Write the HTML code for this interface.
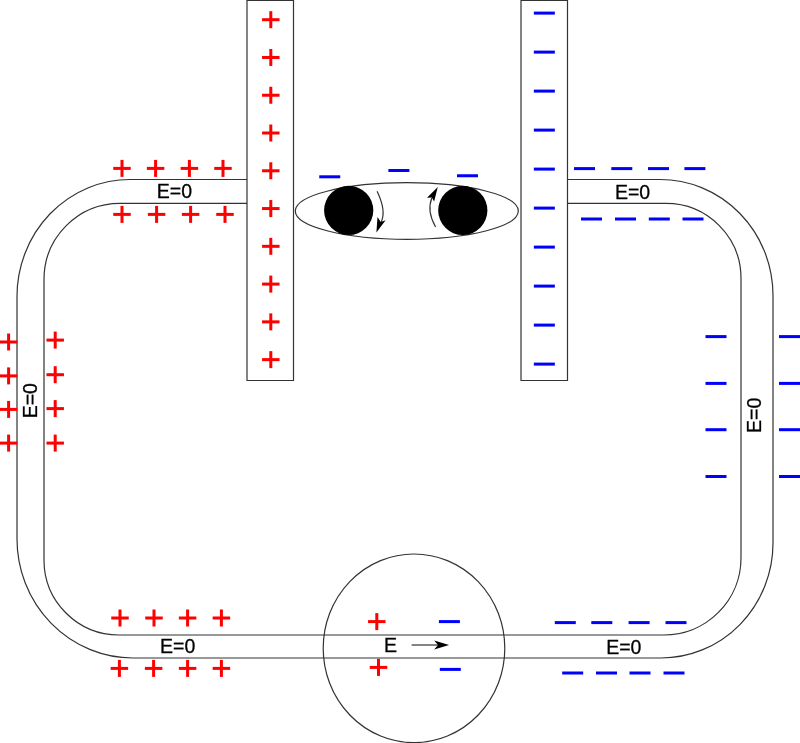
<!DOCTYPE html>
<html><head><meta charset="utf-8"><style>
html,body{margin:0;padding:0;background:#fff;}
svg{display:block;will-change:transform;}
text{font-family:"Liberation Sans",sans-serif;fill:#000;stroke:#000;stroke-width:0.3px;}
</style></head><body>
<svg width="800" height="743" viewBox="0 0 800 743">
<path d="M130,179.5 L660,179.5 A113,116 0 0 1 773,295.5 L773,543 A112,115 0 0 1 661,658 L133,658 A116,119 0 0 1 17,539 L17,296.5 A113,117 0 0 1 130,179.5 Z" fill="none" stroke="#333" stroke-width="1.2"/>
<path d="M120,203.4 L666,203.4 A75,75 0 0 1 741,278.4 L741,558 A77,77 0 0 1 664,635 L119,635 A75,75 0 0 1 44,560 L44,279.4 A76,76 0 0 1 120,203.4 Z" fill="none" stroke="#333" stroke-width="1.2"/>
<rect x="248" y="170" width="320" height="40" fill="#fff"/>
<rect x="247" y="0.5" width="46.5" height="380" fill="#fff"/>
<path d="M247,0.5 H293.5 V380.5 H247 Z" fill="none" stroke="#333" stroke-width="1.2"/>
<rect x="521" y="0.5" width="46.5" height="380" fill="#fff"/>
<path d="M521,0.5 H567.5 V380.5 H521 Z" fill="none" stroke="#333" stroke-width="1.2"/>
<rect x="262.05" y="18.20" width="17.5" height="3" fill="#ff0000"/><rect x="269.30" y="11.20" width="3" height="17" fill="#ff0000"/>
<rect x="533.85" y="11.60" width="21" height="3" fill="#0000ff"/>
<rect x="262.05" y="55.97" width="17.5" height="3" fill="#ff0000"/><rect x="269.30" y="48.97" width="3" height="17" fill="#ff0000"/>
<rect x="533.85" y="50.60" width="21" height="3" fill="#0000ff"/>
<rect x="262.05" y="93.74" width="17.5" height="3" fill="#ff0000"/><rect x="269.30" y="86.74" width="3" height="17" fill="#ff0000"/>
<rect x="533.85" y="89.60" width="21" height="3" fill="#0000ff"/>
<rect x="262.05" y="131.51" width="17.5" height="3" fill="#ff0000"/><rect x="269.30" y="124.51" width="3" height="17" fill="#ff0000"/>
<rect x="533.85" y="128.60" width="21" height="3" fill="#0000ff"/>
<rect x="262.05" y="169.28" width="17.5" height="3" fill="#ff0000"/><rect x="269.30" y="162.28" width="3" height="17" fill="#ff0000"/>
<rect x="533.85" y="167.60" width="21" height="3" fill="#0000ff"/>
<rect x="262.05" y="207.05" width="17.5" height="3" fill="#ff0000"/><rect x="269.30" y="200.05" width="3" height="17" fill="#ff0000"/>
<rect x="533.85" y="206.60" width="21" height="3" fill="#0000ff"/>
<rect x="262.05" y="244.82" width="17.5" height="3" fill="#ff0000"/><rect x="269.30" y="237.82" width="3" height="17" fill="#ff0000"/>
<rect x="533.85" y="245.60" width="21" height="3" fill="#0000ff"/>
<rect x="262.05" y="282.59" width="17.5" height="3" fill="#ff0000"/><rect x="269.30" y="275.59" width="3" height="17" fill="#ff0000"/>
<rect x="533.85" y="284.60" width="21" height="3" fill="#0000ff"/>
<rect x="262.05" y="320.36" width="17.5" height="3" fill="#ff0000"/><rect x="269.30" y="313.36" width="3" height="17" fill="#ff0000"/>
<rect x="533.85" y="323.60" width="21" height="3" fill="#0000ff"/>
<rect x="262.05" y="358.13" width="17.5" height="3" fill="#ff0000"/><rect x="269.30" y="351.13" width="3" height="17" fill="#ff0000"/>
<rect x="533.85" y="362.60" width="21" height="3" fill="#0000ff"/>
<ellipse cx="406.8" cy="211" rx="111.5" ry="28.3" fill="none" stroke="#333" stroke-width="1.2"/>
<circle cx="348.7" cy="210.4" r="24.6" fill="#000"/>
<circle cx="462.8" cy="210.4" r="24.6" fill="#000"/>
<rect x="319.25" y="175.30" width="21" height="3" fill="#0000ff"/>
<rect x="388.40" y="169.00" width="21" height="3" fill="#0000ff"/>
<rect x="457.00" y="174.25" width="21" height="3" fill="#0000ff"/>
<path d="M377.1,191.3 Q386.5,211 381.2,222" fill="none" stroke="#333" stroke-width="1.2"/>
<path d="M376.4,232.4 L377.5,216.9 L380.8,222 L385.6,220.2 Z" fill="#000"/>
<path d="M435.6,227 Q426.5,211 431.9,197.8" fill="none" stroke="#333" stroke-width="1.2"/>
<path d="M437.8,187 L427,197.8 L431.9,197.4 L434.1,201.5 Z" fill="#000"/>
<rect x="113.25" y="166.90" width="17.5" height="3" fill="#ff0000"/><rect x="120.50" y="159.90" width="3" height="17" fill="#ff0000"/>
<rect x="146.85" y="166.90" width="17.5" height="3" fill="#ff0000"/><rect x="154.10" y="159.90" width="3" height="17" fill="#ff0000"/>
<rect x="180.65" y="166.90" width="17.5" height="3" fill="#ff0000"/><rect x="187.90" y="159.90" width="3" height="17" fill="#ff0000"/>
<rect x="214.25" y="166.90" width="17.5" height="3" fill="#ff0000"/><rect x="221.50" y="159.90" width="3" height="17" fill="#ff0000"/>
<rect x="113.25" y="212.90" width="17.5" height="3" fill="#ff0000"/><rect x="120.50" y="205.90" width="3" height="17" fill="#ff0000"/>
<rect x="147.85" y="212.90" width="17.5" height="3" fill="#ff0000"/><rect x="155.10" y="205.90" width="3" height="17" fill="#ff0000"/>
<rect x="181.85" y="212.90" width="17.5" height="3" fill="#ff0000"/><rect x="189.10" y="205.90" width="3" height="17" fill="#ff0000"/>
<rect x="216.25" y="212.90" width="17.5" height="3" fill="#ff0000"/><rect x="223.50" y="205.90" width="3" height="17" fill="#ff0000"/>
<text x="174.4" y="198" font-size="19.5" text-anchor="middle">E=0</text>
<rect x="574.00" y="167.10" width="21" height="3" fill="#0000ff"/>
<rect x="611.30" y="167.10" width="21" height="3" fill="#0000ff"/>
<rect x="648.00" y="167.10" width="21" height="3" fill="#0000ff"/>
<rect x="684.40" y="167.10" width="21" height="3" fill="#0000ff"/>
<rect x="581.00" y="217.50" width="21" height="3" fill="#0000ff"/>
<rect x="615.00" y="217.50" width="21" height="3" fill="#0000ff"/>
<rect x="648.80" y="217.50" width="21" height="3" fill="#0000ff"/>
<rect x="682.50" y="217.50" width="21" height="3" fill="#0000ff"/>
<text x="632.6" y="198.6" font-size="19.5" text-anchor="middle">E=0</text>
<rect x="-0.15" y="340.50" width="17.5" height="3" fill="#ff0000"/><rect x="7.10" y="333.50" width="3" height="17" fill="#ff0000"/>
<rect x="-0.15" y="374.40" width="17.5" height="3" fill="#ff0000"/><rect x="7.10" y="367.40" width="3" height="17" fill="#ff0000"/>
<rect x="-0.15" y="407.90" width="17.5" height="3" fill="#ff0000"/><rect x="7.10" y="400.90" width="3" height="17" fill="#ff0000"/>
<rect x="-0.15" y="441.60" width="17.5" height="3" fill="#ff0000"/><rect x="7.10" y="434.60" width="3" height="17" fill="#ff0000"/>
<rect x="46.45" y="338.60" width="17.5" height="3" fill="#ff0000"/><rect x="53.70" y="331.60" width="3" height="17" fill="#ff0000"/>
<rect x="46.45" y="373.20" width="17.5" height="3" fill="#ff0000"/><rect x="53.70" y="366.20" width="3" height="17" fill="#ff0000"/>
<rect x="46.45" y="407.10" width="17.5" height="3" fill="#ff0000"/><rect x="53.70" y="400.10" width="3" height="17" fill="#ff0000"/>
<rect x="46.45" y="441.60" width="17.5" height="3" fill="#ff0000"/><rect x="53.70" y="434.60" width="3" height="17" fill="#ff0000"/>
<text x="37" y="400.7" font-size="19.5" text-anchor="middle" transform="rotate(-90 37 400.7)">E=0</text>
<rect x="705.50" y="335.10" width="21" height="3" fill="#0000ff"/>
<rect x="779.00" y="335.10" width="21" height="3" fill="#0000ff"/>
<rect x="705.50" y="381.90" width="21" height="3" fill="#0000ff"/>
<rect x="779.00" y="381.90" width="21" height="3" fill="#0000ff"/>
<rect x="705.50" y="428.20" width="21" height="3" fill="#0000ff"/>
<rect x="779.00" y="428.20" width="21" height="3" fill="#0000ff"/>
<rect x="705.50" y="475.00" width="21" height="3" fill="#0000ff"/>
<rect x="779.00" y="475.00" width="21" height="3" fill="#0000ff"/>
<text x="761.4" y="415.3" font-size="19.5" text-anchor="middle" transform="rotate(-90 761.4 415.3)">E=0</text>
<rect x="111.25" y="616.50" width="17.5" height="3" fill="#ff0000"/><rect x="118.50" y="609.50" width="3" height="17" fill="#ff0000"/>
<rect x="145.25" y="616.50" width="17.5" height="3" fill="#ff0000"/><rect x="152.50" y="609.50" width="3" height="17" fill="#ff0000"/>
<rect x="178.85" y="616.50" width="17.5" height="3" fill="#ff0000"/><rect x="186.10" y="609.50" width="3" height="17" fill="#ff0000"/>
<rect x="212.65" y="616.50" width="17.5" height="3" fill="#ff0000"/><rect x="219.90" y="609.50" width="3" height="17" fill="#ff0000"/>
<rect x="110.65" y="666.90" width="17.5" height="3" fill="#ff0000"/><rect x="117.90" y="659.90" width="3" height="17" fill="#ff0000"/>
<rect x="144.85" y="666.90" width="17.5" height="3" fill="#ff0000"/><rect x="152.10" y="659.90" width="3" height="17" fill="#ff0000"/>
<rect x="178.85" y="666.90" width="17.5" height="3" fill="#ff0000"/><rect x="186.10" y="659.90" width="3" height="17" fill="#ff0000"/>
<rect x="212.65" y="666.90" width="17.5" height="3" fill="#ff0000"/><rect x="219.90" y="659.90" width="3" height="17" fill="#ff0000"/>
<text x="177.7" y="653" font-size="19.5" text-anchor="middle">E=0</text>
<rect x="554.80" y="621.10" width="21" height="3" fill="#0000ff"/>
<rect x="591.30" y="621.10" width="21" height="3" fill="#0000ff"/>
<rect x="628.60" y="621.10" width="21" height="3" fill="#0000ff"/>
<rect x="665.50" y="621.10" width="21" height="3" fill="#0000ff"/>
<rect x="562.20" y="671.50" width="21" height="3" fill="#0000ff"/>
<rect x="596.00" y="671.50" width="21" height="3" fill="#0000ff"/>
<rect x="629.50" y="671.50" width="21" height="3" fill="#0000ff"/>
<rect x="663.50" y="671.50" width="21" height="3" fill="#0000ff"/>
<text x="623.8" y="654" font-size="19.5" text-anchor="middle">E=0</text>
<ellipse cx="414" cy="648.3" rx="90.8" ry="94.3" fill="none" stroke="#333" stroke-width="1.2"/>
<rect x="368.05" y="620.10" width="17.5" height="3" fill="#ff0000"/><rect x="375.30" y="613.10" width="3" height="17" fill="#ff0000"/>
<rect x="369.75" y="665.90" width="17.5" height="3" fill="#ff0000"/><rect x="377.00" y="658.90" width="3" height="17" fill="#ff0000"/>
<rect x="438.90" y="620.10" width="21" height="3" fill="#0000ff"/>
<rect x="439.80" y="667.90" width="21" height="3" fill="#0000ff"/>
<text x="384" y="652.4" font-size="19.5" text-anchor="start">E</text>
<line x1="411.6" y1="645" x2="440" y2="645" stroke="#333" stroke-width="1.2"/>
<path d="M449.1,645 L434.2,640.6 L438,645 L434.2,649.5 Z" fill="#000"/>
</svg>
</body></html>
